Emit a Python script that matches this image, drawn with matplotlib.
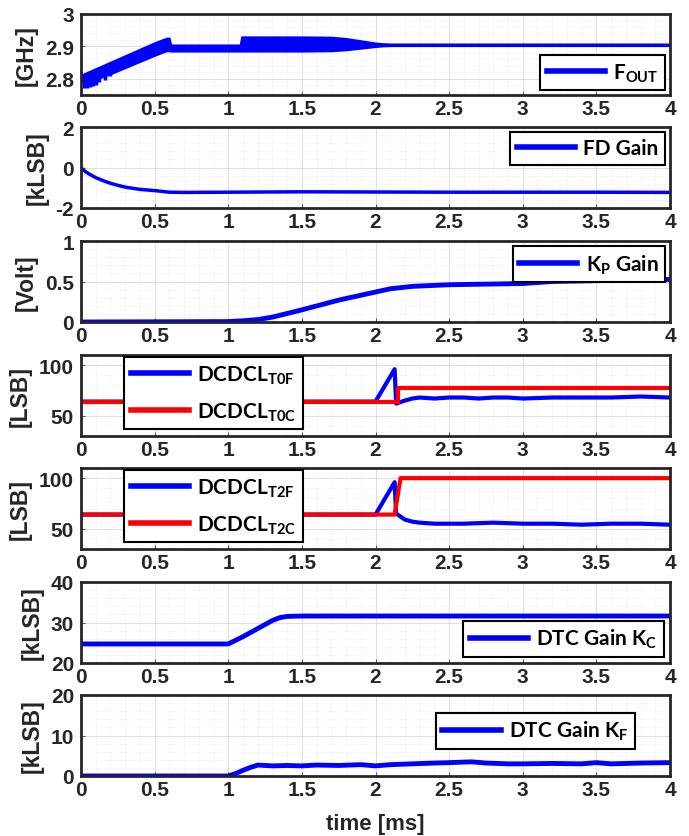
import numpy as np
import matplotlib
matplotlib.use('Agg')
import matplotlib.pyplot as plt
from matplotlib import font_manager
from matplotlib.ticker import AutoMinorLocator, FuncFormatter, MultipleLocator

names = set(f.name for f in font_manager.fontManager.ttflist)
tick_fam = ['Liberation Sans Narrow', 'Liberation Sans', 'DejaVu Sans']
tick_fam = [f for f in tick_fam if f in names] or ['DejaVu Sans']
plt.rcParams['font.family'] = tick_fam
plt.rcParams['font.weight'] = 'bold'
plt.rcParams['mathtext.fontset'] = 'custom'
plt.rcParams['mathtext.rm'] = 'Lato:bold'
plt.rcParams['mathtext.bf'] = 'Lato:bold'
plt.rcParams['mathtext.default'] = 'rm'

BLUE = '#0000ff'
RED = '#ff0000'

# --- F_OUT : envelope of the noisy frequency trace [GHz]
t_fout = [0, 0.05, 0.1, 0.15, 0.2, 0.3, 0.4, 0.5, 0.58, 0.6, 0.61, 1.0, 1.08, 1.09, 1.3, 1.5,
          1.7, 1.8, 1.9, 2.0, 2.05, 2.1, 2.5, 3.0, 3.5, 4.0]
fout_hi = [2.812, 2.822, 2.832, 2.842, 2.852, 2.872, 2.892, 2.912, 2.926, 2.926, 2.905, 2.905, 2.905,
           2.930, 2.930, 2.930, 2.929, 2.925, 2.918, 2.911, 2.909, 2.908, 2.908, 2.908, 2.908, 2.908]
fout_lo = [2.790, 2.795, 2.800, 2.806, 2.815, 2.834, 2.853, 2.872, 2.886, 2.886, 2.885, 2.885, 2.885,
           2.885, 2.885, 2.885, 2.886, 2.889, 2.894, 2.899, 2.901, 2.902, 2.902, 2.902, 2.902, 2.902]
t_dip = [0.02, 0.04, 0.06, 0.08, 0.1, 0.12, 0.16, 0.2]
fout_dip = [2.772, 2.772, 2.775, 2.778, 2.78, 2.79, 2.797, 2.808]

# --- FD gain [kLSB]
t_fd = [0, 0.02, 0.05, 0.1, 0.15, 0.2, 0.25, 0.3, 0.4, 0.5, 0.6, 0.7, 1.0, 1.5, 2.0, 2.5, 3.0, 3.5, 4.0]
fd_gain = [0, -0.15, -0.3, -0.5, -0.65, -0.78, -0.88, -0.97, -1.08, -1.14, -1.22, -1.23, -1.22,
           -1.20, -1.21, -1.22, -1.22, -1.22, -1.23]

# --- Kp gain [Volt]
t_kp = [0, 1.0, 1.1, 1.2, 1.3, 1.5, 1.75, 2.0, 2.1, 2.25, 2.5, 3.0, 3.2, 3.5, 4.0]
kp_gain = [0, 0.005, 0.015, 0.03, 0.06, 0.15, 0.27, 0.37, 0.41, 0.44, 0.46, 0.475, 0.5, 0.51, 0.525]

# --- DCDCL T0 [LSB]
t_t0f = [0, 2.0, 2.13, 2.14, 2.16, 2.2, 2.25, 2.3, 2.4, 2.5, 2.6, 2.7, 2.8, 2.9, 3.0, 3.2, 3.4,
         3.6, 3.8, 4.0]
t0f = [64, 64, 96, 62, 63, 65, 67, 68, 67, 68, 68, 67, 68, 68, 67, 68, 68, 68, 69, 68]
t_t0c = [0, 2.15, 2.15, 4.0]
t0c = [64, 64, 77, 77]

# --- DCDCL T2 [LSB]
t_t2f = [0, 2.0, 2.13, 2.14, 2.16, 2.2, 2.25, 2.3, 2.4, 2.5, 2.6, 2.8, 3.0, 3.2, 3.4, 3.6, 3.8, 4.0]
t2f = [64, 64, 96, 65, 63, 59, 57, 56, 55, 55, 55, 56, 55, 55, 54, 55, 55, 54]
t_t2c = [0, 2.13, 2.17, 4.0]
t2c = [64, 64, 100, 100]

# --- DTC gain Kc [kLSB]
t_kc = [0, 1.0, 1.1, 1.2, 1.3, 1.35, 1.4, 1.5, 4.0]
kc_gain = [24.7, 24.7, 26.5, 28.5, 30.5, 31.2, 31.5, 31.6, 31.6]

# --- DTC gain Kf [kLSB]
t_kf = [0, 1.0, 1.05, 1.1, 1.15, 1.2, 1.3, 1.4, 1.5, 1.6, 1.75, 1.9, 2.0, 2.1, 2.25, 2.4, 2.5,
        2.65, 2.75, 2.9, 3.0, 3.2, 3.4, 3.5, 3.6, 3.8, 4.0]
kf_gain = [0, 0, 0.6, 1.4, 2.1, 2.7, 2.5, 2.6, 2.5, 2.7, 2.6, 2.8, 2.5, 2.8, 3.0, 3.2, 3.3,
           3.5, 3.2, 3.0, 3.0, 3.1, 3.0, 3.3, 3.0, 3.2, 3.3]

W, H = 689, 837
fig = plt.figure(figsize=(W / 100, H / 100), dpi=100)

tops = [15, 128, 242, 356, 469, 583, 696]
ax_h = 81
left, right = 81, 670
axs = []
for top in tops:
    ax = fig.add_axes([left / W, 1 - (top + ax_h) / H, (right - left) / W, ax_h / H])
    axs.append(ax)

ylims = [(2.75, 3), (-2, 2), (0, 1), (30, 110), (30, 110), (20, 40), (0, 20)]
yticks = [[2.8, 2.9, 3], [-2, 0, 2], [0, 0.5, 1], [50, 100], [50, 100], [20, 30, 40], [0, 10, 20]]
ylabels = ['[GHz]', '[kLSB]', '[Volt]', '[LSB]', '[LSB]', '[kLSB]', '[kLSB]']

fmt = FuncFormatter(lambda v, p: '%g' % v)
for ax, yl, yt, lab in zip(axs, ylims, yticks, ylabels):
    ax.set_xlim(0, 4)
    ax.set_ylim(*yl)
    ax.set_yticks(yt)
    ax.xaxis.set_major_locator(MultipleLocator(0.5))
    ax.xaxis.set_minor_locator(AutoMinorLocator(5))
    ax.yaxis.set_minor_locator(AutoMinorLocator(5))
    ax.xaxis.set_major_formatter(fmt)
    ax.yaxis.set_major_formatter(fmt)
    ax.grid(which='major', color='#d9d9d9', lw=0.6)
    ax.grid(which='minor', color='#e6e6e6', lw=0.5, ls=':')
    ax.set_axisbelow(True)
    ax.tick_params(which='both', direction='in', length=3, width=0.8, color='#555555',
                   labelsize=15, labelcolor='#262626')
    ax.tick_params(axis='x', pad=3)
    ax.tick_params(axis='y', pad=5)
    ax.tick_params(which='minor', length=0)
    for s in ax.spines.values():
        s.set_linewidth(2)
        s.set_color('#262626')
    ax.set_ylabel(lab, fontsize=16.5, fontweight='bold', family=['Liberation Sans', 'DejaVu Sans'],
                  labelpad=5, color='#262626')

leg_kw = dict(frameon=True, fancybox=False, edgecolor='black', framealpha=1,
              prop={'family': 'Lato', 'weight': 'bold', 'size': 15}, handlelength=2.8,
              borderpad=0.3, handletextpad=0.4)

# F_OUT
ax = axs[0]
ax.fill_between(t_fout, fout_lo, fout_hi, color=BLUE, lw=1.2)
ax.vlines(t_dip, fout_dip, np.interp(t_dip, t_fout, fout_lo) + 0.005, color=BLUE, lw=2.5)
h, = ax.plot([], [], color=BLUE, lw=4, label=r'F$_{\mathrm{OUT}}$')
leg = ax.legend(handles=[h], loc='lower right', borderaxespad=0.25, **leg_kw)
leg.get_frame().set_linewidth(1.5)

# FD gain
ax = axs[1]
ax.plot(t_fd, fd_gain, color=BLUE, lw=2.5, label='FD Gain')
leg = ax.legend(loc='upper right', borderaxespad=0.25, **leg_kw)
leg.get_frame().set_linewidth(1.5)
for l in leg.get_lines():
    l.set_linewidth(4)

# Kp gain
ax = axs[2]
ax.plot(t_kp, kp_gain, color=BLUE, lw=3.5, label=r'K$_{\mathrm{P}}$ Gain')
leg = ax.legend(loc='upper right', borderaxespad=0.25, **leg_kw)
leg.get_frame().set_linewidth(1.5)
for l in leg.get_lines():
    l.set_linewidth(4)

# DCDCL T0
ax = axs[3]
ax.plot(t_t0f, t0f, color=BLUE, lw=3, label=r'DCDCL$_{\mathrm{T0F}}$')
ax.plot(t_t0c, t0c, color=RED, lw=3, label=r'DCDCL$_{\mathrm{T0C}}$')
leg = ax.legend(loc='upper left', bbox_to_anchor=(0.07, 1.0), borderaxespad=0.1,
                labelspacing=0.7, **leg_kw)
leg.get_frame().set_linewidth(1.5)
for l in leg.get_lines():
    l.set_linewidth(4)

# DCDCL T2
ax = axs[4]
ax.plot(t_t2f, t2f, color=BLUE, lw=3, label=r'DCDCL$_{\mathrm{T2F}}$')
ax.plot(t_t2c, t2c, color=RED, lw=3, label=r'DCDCL$_{\mathrm{T2C}}$')
leg = ax.legend(loc='upper left', bbox_to_anchor=(0.07, 1.0), borderaxespad=0.1,
                labelspacing=0.7, **leg_kw)
leg.get_frame().set_linewidth(1.5)
for l in leg.get_lines():
    l.set_linewidth(4)

# DTC gain Kc
ax = axs[5]
ax.plot(t_kc, kc_gain, color=BLUE, lw=3.5, label=r'DTC Gain K$_{\mathrm{C}}$')
leg = ax.legend(loc='lower right', borderaxespad=0.3, **leg_kw)
leg.get_frame().set_linewidth(1.5)
for l in leg.get_lines():
    l.set_linewidth(4)

# DTC gain Kf
ax = axs[6]
ax.plot(t_kf, kf_gain, color=BLUE, lw=3.5, label=r'DTC Gain K$_{\mathrm{F}}$')
leg = ax.legend(loc='upper right', bbox_to_anchor=(0.94, 0.78), borderaxespad=0.0, **leg_kw)
leg.get_frame().set_linewidth(1.5)
for l in leg.get_lines():
    l.set_linewidth(4)

fig.text((left + right) / 2 / W, 1 - 825 / H, 'time [ms]', ha='center', va='center',
         fontsize=16, fontweight='bold', color='#262626')

fig.savefig('out.png', dpi=100)
